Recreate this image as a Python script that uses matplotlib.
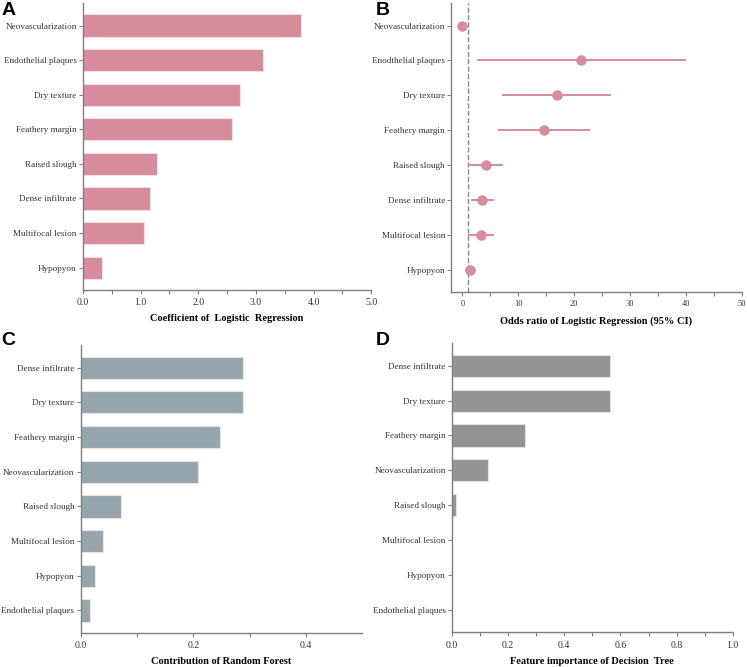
import matplotlib.pyplot as plt
import numpy as np

plt.rcParams['font.family'] = ['Liberation Serif', 'DejaVu Serif']

# panel A: coefficients of logistic regression
lr_feat = ['Neovascularization', 'Endothelial plaques', 'Dry texture', 'Feathery margin',
           'Raised slough', 'Dense infiltrate', 'Multifocal lesion', 'Hypopyon']
lr_coef = [3.78, 3.12, 2.72, 2.58, 1.29, 1.16, 1.06, 0.33]

# panel B: odds ratios with 95% CI
or_feat = ['Neovascularization', 'Enodthelial plaques', 'Dry texture', 'Feathery margin',
           'Raised slough', 'Dense infiltrate', 'Multifocal lesion', 'Hypopyon']
or_val = [0.0, 21.3, 16.9, 14.6, 4.2, 3.5, 3.3, 1.4]
or_lo = [0.0, 2.7, 7.1, 6.3, 1.2, 1.5, 1.0, 0.5]
or_hi = [0.0, 40.0, 26.6, 22.8, 7.2, 5.6, 5.6, 2.5]

# panel C: random forest contribution
rf_feat = ['Dense infiltrate', 'Dry texture', 'Feathery margin', 'Neovascularization',
           'Raised slough', 'Multifocal lesion', 'Hypopyon', 'Endothelial plaques']
rf_val = [0.288, 0.288, 0.247, 0.208, 0.072, 0.039, 0.026, 0.016]

# panel D: decision tree importance
dt_feat = rf_feat
dt_val = [0.564, 0.564, 0.261, 0.13, 0.014, 0.0, 0.0, 0.0]

pink = '#d68c9b'
spine_c = '#7f7f7f'

fig = plt.figure(figsize=(7.47, 6.67), dpi=100)
axA = fig.add_axes([0.111, 0.565, 0.386, 0.431])
axB = fig.add_axes([0.604, 0.562, 0.389, 0.434])
axC = fig.add_axes([0.108, 0.051, 0.377, 0.432])
axD = fig.add_axes([0.605, 0.052, 0.376, 0.434])


def style(ax, feats):
    y = np.arange(len(feats))
    ax.set_yticks(y)
    ax.set_yticklabels(feats, fontsize=6.6)
    ax.set_ylim(len(feats) - 0.35, -0.66)
    for s in ['top', 'right']:
        ax.spines[s].set_visible(False)
    for s in ['left', 'bottom']:
        ax.spines[s].set_color(spine_c)
        ax.spines[s].set_linewidth(1.0)
    ax.tick_params(axis='both', which='both', color=spine_c, length=3, width=0.8,
                   labelsize=6.6, labelcolor='#333333', pad=1.5)
    ax.tick_params(axis='x', which='both', pad=3, labelsize=7)
    return y


y = style(axA, lr_feat)
axA.barh(y, lr_coef, height=0.64, color=pink, edgecolor='#f3dde2', linewidth=0.8)
axA.set_xlim(0, 5)
axA.set_xticks(np.arange(0, 5.1, 1.0))
axA.set_xticklabels(['%.1f' % v for v in np.arange(0, 5.1, 1.0)])
axA.set_xticks(np.arange(0.5, 5, 1.0), minor=True)
axA.set_xlabel('Coefficient of  Logistic  Regression', fontsize=7.5, fontweight='bold', labelpad=5)

y = style(axB, or_feat)
axB.set_xlim(-2, 50)
axB.axvline(1, color='#888888', ls='--', lw=1.0, zorder=1)
xerr = [np.array(or_val) - np.array(or_lo), np.array(or_hi) - np.array(or_val)]
axB.errorbar(or_val, y, xerr=xerr, fmt='o', color=pink, ecolor=pink, elinewidth=1.4,
             markersize=6.5, capsize=0, zorder=3)
axB.set_xticks(np.arange(0, 51, 10))
axB.set_xticks(np.arange(5, 50, 10), minor=True)
axB.tick_params(axis='x', labelsize=6)
axB.set_xlabel('Odds ratio of Logistic Regression (95% CI)', fontsize=7.5, fontweight='bold', labelpad=6)

y = style(axC, rf_feat)
axC.barh(y, rf_val, height=0.64, color='#97a6ac', edgecolor='#e3e8ea', linewidth=0.8)
axC.set_xlim(0, 0.5)
axC.set_xticks([0, 0.2, 0.4])
axC.set_xticklabels(['0.0', '0.2', '0.4'])
axC.set_xticks([0.1, 0.3], minor=True)
axC.set_xlabel('Contribution of Random Forest', fontsize=7.5, fontweight='bold', labelpad=5)

y = style(axD, dt_feat)
axD.barh(y, dt_val, height=0.64, color='#949494', edgecolor='#e0e0e0', linewidth=0.8)
axD.set_xlim(0, 1.0)
axD.set_xticks(np.arange(0, 1.01, 0.2))
axD.set_xticklabels(['%.1f' % v for v in np.arange(0, 1.01, 0.2)])
axD.set_xticks(np.arange(0.1, 1.0, 0.2), minor=True)
axD.set_xlabel('Feature importance of Decision  Tree', fontsize=7.5, fontweight='bold', labelpad=5)

for lab, (px, py) in zip('ABCD', [(0.002, 0.985), (0.503, 0.985), (0.002, 0.489), (0.503, 0.489)]):
    fig.text(px, py, lab, fontsize=14, fontweight='bold', family='Liberation Sans', va='center')

plt.savefig('out.png', dpi=100)
